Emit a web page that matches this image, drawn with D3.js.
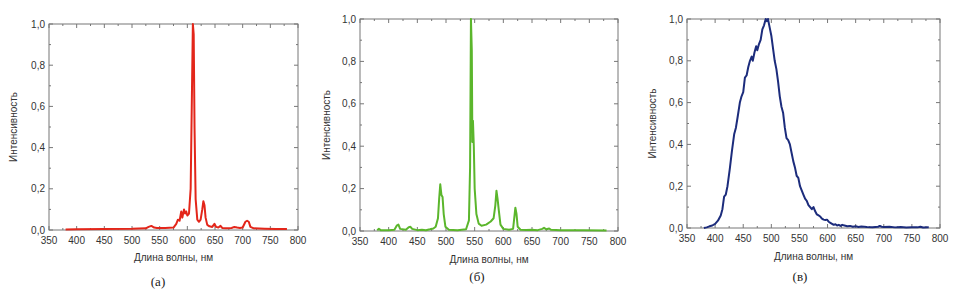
<!doctype html>
<html lang="ru">
<head>
<meta charset="utf-8">
<style>
    body { margin: 0; background: #fff; }
    svg { display: block; }
    .tick-label { font-family: "Liberation Sans", Arial, sans-serif; font-size: 10px; fill: #333; }
    .axis-title { font-family: "Liberation Sans", Arial, sans-serif; font-size: 10px; fill: #333; }
    .panel-title { font-family: "Liberation Serif", "Times New Roman", serif; font-size: 13px; fill: #222; }
</style>
</head>
<body>
<div class="start"></div>

<script src="https://d3js.org/d3.v7.min.js"></script>
<script>

    // ---- data ----
    let xTicks = [350, 400, 450, 500, 550, 600, 650, 700, 750, 800];
    let yTicks = [0, 0.2, 0.4, 0.6, 0.8, 1.0];
    let panelLabels = ['(а)', '(б)', '(в)'];

    // (а) red spectrum
    let spectrumA = [
        [380, 0.003], [400, 0.004], [450, 0.005], [500, 0.006], [525, 0.008], [530, 0.015], [535, 0.02],
        [540, 0.012], [545, 0.01], [560, 0.01], [575, 0.012], [580, 0.03], [583, 0.05], [586, 0.045],
        [589, 0.09], [591, 0.06], [594, 0.1], [596, 0.08], [598, 0.09], [600, 0.07], [603, 0.08],
        [606, 0.2], [608, 0.6], [610, 1.0], [611.5, 0.95], [613, 0.5], [615, 0.15], [618, 0.05],
        [621, 0.04], [624, 0.05], [627, 0.1], [629, 0.14], [631, 0.12], [633, 0.06], [636, 0.025],
        [640, 0.018], [645, 0.015], [649, 0.03], [652, 0.015], [656, 0.012], [660, 0.02], [663, 0.01],
        [670, 0.008], [680, 0.01], [685, 0.015], [690, 0.012], [695, 0.01], [700, 0.012], [705, 0.04],
        [708, 0.045], [711, 0.04], [714, 0.015], [720, 0.008], [740, 0.006], [760, 0.005], [780, 0.005]
    ];

    // (б) green spectrum
    let spectrumB = [
        [380, 0.003], [383, 0.01], [386, 0.004], [400, 0.003], [410, 0.006], [414, 0.025], [417, 0.03],
        [420, 0.01], [430, 0.006], [435, 0.018], [438, 0.02], [441, 0.01], [450, 0.004], [458, 0.006],
        [465, 0.004], [472, 0.008], [478, 0.012], [482, 0.02], [486, 0.06], [488, 0.15], [490, 0.22],
        [492, 0.17], [494, 0.16], [496, 0.08], [499, 0.02], [505, 0.006], [520, 0.004], [535, 0.008],
        [540, 0.05], [542, 0.3], [543.5, 1.0], [545, 0.85], [546, 0.42], [547, 0.52], [548.5, 0.4],
        [550, 0.2], [553, 0.08], [557, 0.035], [562, 0.025], [570, 0.03], [578, 0.045], [583, 0.06],
        [586, 0.12], [588, 0.19], [590, 0.15], [592, 0.1], [595, 0.03], [600, 0.01], [610, 0.006],
        [617, 0.01], [619, 0.06], [621, 0.11], [623, 0.08], [625, 0.02], [630, 0.006], [640, 0.005],
        [650, 0.006], [660, 0.004], [668, 0.01], [671, 0.015], [675, 0.008], [680, 0.012], [683, 0.006],
        [700, 0.004], [740, 0.003], [780, 0.002]
    ];

    // (в) blue spectrum
    let spectrumC = [
        [380, 0.0], [385, 0.003], [390, 0.008], [395, 0.012], [400, 0.02], [405, 0.035], [410, 0.06],
        [413, 0.09], [416, 0.15], [419, 0.16], [422, 0.2], [426, 0.28], [430, 0.37], [434, 0.45],
        [437, 0.48], [440, 0.53], [444, 0.6], [447, 0.63], [450, 0.65], [453, 0.72], [456, 0.73],
        [459, 0.77], [462, 0.8], [465, 0.82], [467, 0.8], [470, 0.84], [473, 0.87], [475, 0.85],
        [478, 0.88], [481, 0.9], [484, 0.95], [487, 0.97], [490, 1.0], [492, 0.99], [494, 1.0],
        [497, 0.96], [500, 0.92], [503, 0.86], [506, 0.8], [509, 0.76], [512, 0.7], [515, 0.63],
        [518, 0.58], [521, 0.55], [524, 0.48], [527, 0.43], [530, 0.42], [533, 0.4], [536, 0.36],
        [539, 0.32], [542, 0.29], [545, 0.25], [548, 0.24], [551, 0.2], [554, 0.18], [557, 0.16],
        [560, 0.14], [563, 0.13], [566, 0.11], [569, 0.1], [572, 0.09], [575, 0.1], [578, 0.08],
        [581, 0.065], [584, 0.06], [587, 0.055], [590, 0.045], [593, 0.04], [596, 0.038], [599, 0.04],
        [602, 0.03], [605, 0.025], [608, 0.02], [611, 0.015], [614, 0.018], [617, 0.012], [620, 0.015],
        [623, 0.01], [626, 0.015], [630, 0.012], [635, 0.008], [640, 0.01], [645, 0.006], [650, 0.008],
        [655, 0.005], [660, 0.007], [670, 0.005], [680, 0.004], [690, 0.006], [693, 0.01], [696, 0.006],
        [700, 0.005], [710, 0.006], [720, 0.003], [730, 0.005], [740, 0.002], [750, 0.004], [760, 0.003],
        [765, 0.006], [770, 0.002], [780, 0.003]
    ];

    // ---- layout of the three panels ----
    let panels = [
        {data: spectrumA, color: '#e3261a', left: 49, right: 298, top: 24, bottom: 230,
            yTitleX: 13, xTitleY: 261, labelX: 158, labelY: 286},
        {data: spectrumB, color: '#5bb62c', left: 360, right: 618, top: 19, bottom: 231,
            yTitleX: 326, xTitleY: 263, labelX: 477, labelY: 281},
        {data: spectrumC, color: '#1c2c7c', left: 687, right: 940, top: 19, bottom: 228,
            yTitleX: 652, xTitleY: 260, labelX: 800, labelY: 281}
    ];

    let svg = d3.select('.start').append('svg')
        .attr('width', 957)
        .attr('height', 298);

    let fmt = (d) => d3.format('.1f')(d).replace('.', ',');

    panels.forEach((p, i) => {

        let x = d3.scaleLinear().domain([350, 800]).range([p.left, p.right]);
        let y = d3.scaleLinear().domain([0, 1]).range([p.bottom, p.top]);

        let g = svg.append('g').attr('class', 'panel');

        // inward ticks on all four sides: major + minor
        let xMinor = d3.range(375, 800, 50);
        let yMinor = d3.range(0.1, 1, 0.2);
        let tickColor = '#777';

        let ticks = g.append('g').attr('stroke', tickColor).attr('stroke-width', 1);
        xTicks.concat(xMinor).forEach((t) => {
            let len = xTicks.includes(t) ? 4 : 2;
            ticks.append('line').attr('x1', x(t)).attr('x2', x(t)).attr('y1', p.bottom).attr('y2', p.bottom - len);
            ticks.append('line').attr('x1', x(t)).attr('x2', x(t)).attr('y1', p.top).attr('y2', p.top + len);
        });
        yTicks.concat(yMinor).forEach((t) => {
            let len = yTicks.includes(t) ? 4 : 2;
            ticks.append('line').attr('y1', y(t)).attr('y2', y(t)).attr('x1', p.left).attr('x2', p.left + len);
            ticks.append('line').attr('y1', y(t)).attr('y2', y(t)).attr('x1', p.right).attr('x2', p.right - len);
        });

        // frame
        g.append('rect')
            .attr('x', p.left).attr('y', p.top)
            .attr('width', p.right - p.left).attr('height', p.bottom - p.top)
            .attr('fill', 'none').attr('stroke', tickColor).attr('stroke-width', 1);

        // spectrum line
        let line = d3.line().x((d) => x(d[0])).y((d) => y(d[1]));
        g.append('path')
            .datum(p.data)
            .attr('d', line)
            .attr('fill', 'none')
            .attr('stroke', p.color)
            .attr('stroke-width', 2)
            .attr('stroke-linejoin', 'round');

        // tick labels
        g.selectAll('.xl').data(xTicks).join('text')
            .attr('class', 'tick-label')
            .attr('x', (d) => x(d)).attr('y', p.bottom + 14)
            .attr('text-anchor', 'middle')
            .text((d) => d);

        g.selectAll('.yl').data(yTicks).join('text')
            .attr('class', 'tick-label')
            .attr('x', p.left - 4).attr('y', (d) => y(d) + 3.5)
            .attr('text-anchor', 'end')
            .text(fmt);

        // axis titles
        g.append('text')
            .attr('class', 'axis-title')
            .attr('x', (p.left + p.right) / 2).attr('y', p.xTitleY)
            .attr('text-anchor', 'middle')
            .text('Длина волны, нм');

        g.append('text')
            .attr('class', 'axis-title')
            .attr('transform', `translate(${p.yTitleX},${(p.top + p.bottom) / 2}) rotate(-90)`)
            .attr('text-anchor', 'middle')
            .attr('dy', '0.35em')
            .text('Интенсивность');

        // panel letter
        g.append('text')
            .attr('class', 'panel-title')
            .attr('x', p.labelX).attr('y', p.labelY)
            .attr('text-anchor', 'middle')
            .text(panelLabels[i]);
    });

</script>
</body>
</html>
